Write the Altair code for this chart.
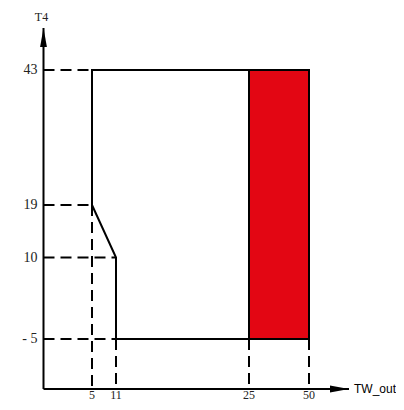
import altair as alt
import pandas as pd

# ---- data ----
x_ticks = [5, 11, 25, 50]
x_tick_labels = ["5", "11", "25", "50"]
y_ticks = [43, 19, 10, -5]
y_tick_labels = ["43", "19", "10", "- 5"]

outline_x = [5, 5, 50, 50, 11, 11, 5]
outline_y = [19, 43, 43, -5, -5, 10, 19]

region_x = [25, 50]
region_y = [-5, 43]
divider_x = [25]

dash_x1 = [0, 0, 0, 0, 5, 11, 25, 50]
dash_y1 = [43, 19, 10, -5, 19, -5, -5, -5]
dash_x2 = [5, 5, 11, 11, 5, 11, 25, 50]
dash_y2 = [43, 19, 10, -5, -10, -10, -10, -10]

x_origin, x_end = 0, 60
y_origin, y_end = -10, 52
x_title = "TW_out"
y_title = "T4"

# ---- scales (piecewise, as in the schematic) ----
xs = alt.Scale(domain=[0, 5, 11, 25, 50, 60],
               range=[35.5, 84, 108, 241, 301, 341], zero=False, nice=False)
ys = alt.Scale(domain=[-10, -5, 10, 19, 43, 52],
               range=[381, 331, 249.5, 197, 62, 20], zero=False, nice=False)

def X(f):
    return alt.X(f, type="quantitative", scale=xs, axis=None)

def Y(f):
    return alt.Y(f, type="quantitative", scale=ys, axis=None)

region = alt.Chart(pd.DataFrame({"x": [region_x[0]], "x2": [region_x[1]],
                                 "y": [region_y[0]], "y2": [region_y[1]]})).mark_rect(
    color="#E30613").encode(x=X("x"), x2="x2", y=Y("y"), y2="y2")

outline = alt.Chart(pd.DataFrame({"x": outline_x, "y": outline_y,
                                  "o": list(range(len(outline_x)))})).mark_line(
    color="black", strokeWidth=2, strokeJoin="miter").encode(
    x=X("x"), y=Y("y"), order="o:Q")

divider = alt.Chart(pd.DataFrame({"x": divider_x, "y": [region_y[0]],
                                  "y2": [region_y[1]]})).mark_rule(
    color="black", strokeWidth=2).encode(x=X("x"), y=Y("y"), y2="y2")

dashes = alt.Chart(pd.DataFrame({"x": dash_x1, "y": dash_y1,
                                 "x2": dash_x2, "y2": dash_y2})).mark_rule(
    color="black", strokeWidth=2, strokeDash=[11, 6]).encode(
    x=X("x"), y=Y("y"), x2="x2", y2="y2")

axes = alt.Chart(pd.DataFrame({"x": [x_origin, x_origin], "y": [y_origin, y_origin],
                               "x2": [x_end, x_origin], "y2": [y_origin, y_end]})).mark_rule(
    color="black", strokeWidth=2).encode(x=X("x"), y=Y("y"), x2="x2", y2="y2")

arrow_up = alt.Chart(pd.DataFrame({"x": [x_origin], "y": [y_end]})).mark_point(
    shape="M0,0L-0.36,2L0.36,2Z", size=361, filled=True, color="black", opacity=1,
    strokeWidth=0).encode(x=X("x"), y=Y("y"))

arrow_right = alt.Chart(pd.DataFrame({"x": [x_end], "y": [y_origin]})).mark_point(
    shape="M0,0L-2,-0.36L-2,0.36Z", size=361, filled=True, color="black", opacity=1,
    strokeWidth=0).encode(x=X("x"), y=Y("y"))

ylabels = alt.Chart(pd.DataFrame({"y": y_ticks, "t": y_tick_labels,
                                  "x": [x_origin] * len(y_ticks)})).mark_text(
    align="right", baseline="middle", dx=-6, font="Liberation Serif", fontSize=14,
    color="#222").encode(x=X("x"), y=Y("y"), text="t:N")

xlabels = alt.Chart(pd.DataFrame({"x": x_ticks, "t": x_tick_labels,
                                  "y": [y_origin] * len(x_ticks)})).mark_text(
    align="center", baseline="bottom", dy=13, font="Liberation Serif", fontSize=12,
    color="#222").encode(x=X("x"), y=Y("y"), text="t:N")

xtitle = alt.Chart(pd.DataFrame({"x": [x_end], "y": [y_origin], "t": [x_title]})).mark_text(
    align="left", baseline="middle", dx=5, font="Liberation Sans",
    fontSize=12, color="black").encode(x=X("x"), y=Y("y"), text="t:N")

ytitle = alt.Chart(pd.DataFrame({"x": [x_origin], "y": [y_end], "t": [y_title]})).mark_text(
    align="center", baseline="middle", dx=-2, dy=-11.5, font="Liberation Serif",
    fontSize=12, color="#222").encode(x=X("x"), y=Y("y"), text="t:N")

chart = alt.layer(region, outline, divider, dashes, axes, arrow_up, arrow_right,
                  ylabels, xlabels, xtitle, ytitle).properties(
    width=388, height=394, padding=0,
    autosize=alt.AutoSizeParams(type="none")).configure_view(stroke=None)

chart.save("out.html", embed_options={"renderer": "svg", "actions": False})
